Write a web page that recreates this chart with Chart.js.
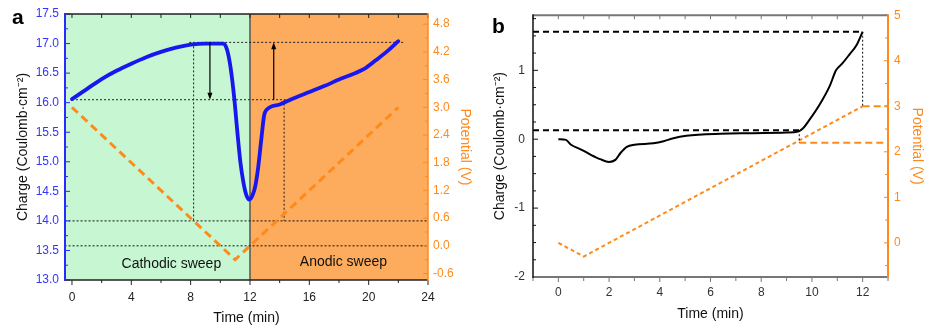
<!DOCTYPE html>
<html>
<head>
<meta charset="utf-8">
<script src="https://cdn.jsdelivr.net/npm/chart.js@4.4.0/dist/chart.umd.min.js"></script>
<style>
body { margin: 0; background: #fff; width: 925px; height: 327px; overflow: hidden; position: relative; }
#wa { position: absolute; left: 0; top: 0; width: 480px; height: 327px; }
#wb { position: absolute; left: 470px; top: 0; width: 455px; height: 327px; }
</style>
</head>
<body>
<div id="wa"><canvas id="chartA"></canvas></div>
<div id="wb"><canvas id="chartB"></canvas></div>
<script>
// ---- panel a data ----
// charge (left axis) over time
var timeA = [0, 1, 2, 3, 4, 5, 6, 7, 8, 9, 10.2, 10.45, 10.7, 10.95, 11.15, 11.35, 11.55, 11.75, 11.95,
             12.15, 12.35, 12.55, 12.75, 12.95, 13.08, 14, 15, 16, 17, 18, 19, 19.7, 20.5, 21.3, 22];
var chargeA = [16.06, 16.23, 16.40, 16.54, 16.66, 16.77, 16.86, 16.93, 16.98, 17.0, 17.0, 16.9, 16.58, 16.05, 15.5,
               15.0, 14.66, 14.44, 14.36, 14.42, 14.58, 14.9, 15.35, 15.78, 15.87, 15.97, 16.08, 16.18, 16.28,
               16.39, 16.49, 16.57, 16.72, 16.88, 17.04];
// potential (right axis)
var potTimeA = [0, 11, 22];
var potA = [3.0, -0.3, 3.0];
// guides
var capHiQ = 17.02, capHiT = [7.9, 22.4];
var capLoQ = 16.05, capLoT = [0, 14.4];
var dropT = 8.2, riseT = 14.3, baseQ = 14.0;
var zeroV = 0.0;
var arrowT = [9.3, 13.6], arrowFrom = [17.02, 16.05], arrowTo = [16.05, 17.02];
var sweepEdge = 12;
var sweepNames = ['Cathodic sweep', 'Anodic sweep'];
var sweepLabelT = [6.7, 18.3], sweepLabelQ = [13.27, 13.3];

// ---- panel b data ----
var timeB = [0, 0.3, 0.5, 0.9, 1.3, 1.65, 2.0, 2.25, 2.45, 2.7, 3.0, 3.75, 4.15, 4.5, 5.05, 6.4, 7.7, 9.0,
             9.45, 9.65, 9.9, 10.3, 10.7, 10.95, 11.2, 11.5, 11.75, 12.0];
var chargeB = [0, -0.01, -0.08, -0.15, -0.23, -0.29, -0.33, -0.3, -0.2, -0.11, -0.08, -0.06, -0.03, 0.01, 0.05,
               0.08, 0.087, 0.096, 0.11, 0.16, 0.28, 0.5, 0.77, 1.0, 1.1, 1.24, 1.36, 1.56];
var potTimeB = [0, 1, 12];
var potB = [0, -0.3, 3.0];
var holdHiT = [12, 13], holdHiV = 3.0;
var holdLoT = [9.5, 13], holdLoV = 2.2;
var levelHiQ = 1.56, levelHiT = [-1, 12];
var levelLoQ = 0.13, levelLoT = [-1, 9.5];
var connT = [9.5, 12], connQ = [0.13, 1.56], connV = [2.2, 3.0];

Chart.defaults.font.family = '"Liberation Sans", Arial, sans-serif';
Chart.defaults.animation = false;

var ORANGE = '#ff8a1c';
var NOGRID = { display: false, drawTicks: false, tickLength: 0 };

function pts(xs, ys) {
    var out = [];
    for (var i = 0; i < xs.length; i++) out.push({ x: xs[i], y: ys[i] });
    return out;
}
function hline(xs, y) { return [{ x: xs[0], y: y }, { x: xs[1], y: y }]; }
function vline(x, y1, y2) { return [{ x: x, y: y1 }, { x: x, y: y2 }]; }

// only label the major ticks
function majorLabel(step, digits) {
    return function (v) {
        var k = v / step;
        if (Math.abs(k - Math.round(k)) < 1e-6) return (Math.round(k) * step).toFixed(digits);
        return '';
    };
}
function fixW(w) { return function (s) { s.width = w; }; }
function fixH(h) { return function (s) { s.height = h; }; }

function guide(data, axis, color, width, dash) {
    return {
        data: data, yAxisID: axis, borderColor: color, borderWidth: width,
        borderDash: dash, pointRadius: 0, fill: false, tension: 0
    };
}

// tick marks + frame
function drawAxes(chart, spec) {
    var ctx = chart.ctx, a = chart.chartArea;
    ctx.save();
    ['x', 'y', 'y2'].forEach(function (id) {
        var s = chart.scales[id], o = spec[id];
        s.ticks.forEach(function (t) {
            var p = s.getPixelForValue(t.value);
            var len = t.label !== '' ? o.major : o.minor;
            ctx.lineWidth = 1;
            ctx.beginPath();
            if (id === 'x') {
                ctx.strokeStyle = o.color;
                ctx.moveTo(p, a.bottom); ctx.lineTo(p, a.bottom + len);
                ctx.stroke();
                ctx.beginPath();
                ctx.strokeStyle = o.topColor;
                ctx.moveTo(p, a.top); ctx.lineTo(p, a.top + o.top);
            } else if (id === 'y') {
                ctx.strokeStyle = o.color;
                ctx.moveTo(a.left, p); ctx.lineTo(a.left + len, p);
            } else {
                ctx.strokeStyle = o.color;
                ctx.moveTo(a.right, p); ctx.lineTo(a.right - len, p);
            }
            ctx.stroke();
        });
    });
    function edge(x1, y1, x2, y2, c, w) {
        ctx.strokeStyle = c; ctx.lineWidth = w;
        ctx.beginPath(); ctx.moveTo(x1, y1); ctx.lineTo(x2, y2); ctx.stroke();
    }
    edge(a.left, a.top, a.right, a.top, spec.x.topColor, spec.x.topWidth);
    edge(a.left, a.bottom, a.right, a.bottom, spec.x.color, spec.x.width);
    edge(a.left, a.top - 1, a.left, a.bottom + 1, spec.y.color, spec.y.width);
    edge(a.right, a.top - 1, a.right, a.bottom + 1, spec.y2.color, spec.y2.width);
    ctx.restore();
}

function arrow(ctx, x, y1, y2) {
    var dir = y2 > y1 ? 1 : -1;
    ctx.beginPath();
    ctx.moveTo(x, y1); ctx.lineTo(x, y2 - dir * 5);
    ctx.stroke();
    ctx.beginPath();
    ctx.moveTo(x, y2);
    ctx.lineTo(x - 2.5, y2 - dir * 7);
    ctx.lineTo(x + 2.5, y2 - dir * 7);
    ctx.closePath();
    ctx.fill();
}

// ---- chart a ----
var plugA = {
    id: 'panelA',
    beforeDraw: function (chart) {
        var ctx = chart.ctx, a = chart.chartArea, xs = chart.scales.x;
        var xe = xs.getPixelForValue(sweepEdge);
        ctx.save();
        ctx.fillStyle = '#c7f7d2';
        ctx.fillRect(a.left, a.top, xe - a.left, a.bottom - a.top);
        ctx.fillStyle = '#fdab5c';
        ctx.fillRect(xe, a.top, a.right - xe, a.bottom - a.top);
        ctx.strokeStyle = '#555';
        ctx.lineWidth = 1.5;
        ctx.beginPath(); ctx.moveTo(xe, a.top); ctx.lineTo(xe, a.bottom); ctx.stroke();
        ctx.restore();
    },
    afterDraw: function (chart) {
        var ctx = chart.ctx, xs = chart.scales.x, ys = chart.scales.y;
        drawAxes(chart, {
            x: { color: '#222', width: 1.5, major: 5, minor: 3, topColor: '#222', topWidth: 1.5, top: 4 },
            y: { color: '#2a2aff', width: 2, major: 5, minor: 3 },
            y2: { color: ORANGE, width: 1.5, major: 5, minor: 3 }
        });
        ctx.save();
        ctx.strokeStyle = '#000'; ctx.fillStyle = '#000'; ctx.lineWidth = 1.2;
        for (var i = 0; i < arrowT.length; i++) {
            arrow(ctx, xs.getPixelForValue(arrowT[i]), ys.getPixelForValue(arrowFrom[i]), ys.getPixelForValue(arrowTo[i]));
        }
        ctx.font = '14px "Liberation Sans", Arial, sans-serif';
        ctx.fillStyle = '#111';
        ctx.textAlign = 'center'; ctx.textBaseline = 'middle';
        for (var j = 0; j < sweepNames.length; j++) {
            ctx.fillText(sweepNames[j], xs.getPixelForValue(sweepLabelT[j]), ys.getPixelForValue(sweepLabelQ[j]));
        }
        ctx.font = 'bold 21px "Liberation Sans", Arial, sans-serif';
        ctx.textAlign = 'left'; ctx.textBaseline = 'alphabetic';
        ctx.fillStyle = '#000';
        ctx.fillText('a', 12, 24);
        ctx.restore();
    }
};

new Chart(document.getElementById('chartA'), {
    type: 'line',
    data: {
        datasets: [
            { data: pts(timeA, chargeA), yAxisID: 'y', borderColor: '#1717ee', borderWidth: 3.8,
              pointRadius: 0, cubicInterpolationMode: 'monotone', borderCapStyle: 'round', fill: false },
            { data: pts(potTimeA, potA), yAxisID: 'y2', borderColor: ORANGE, borderWidth: 3,
              borderDash: [8, 5], pointRadius: 0, tension: 0, fill: false },
            guide(hline(capHiT, capHiQ), 'y', '#222', 1, [2, 2]),
            guide(hline(capLoT, capLoQ), 'y', '#222', 1, [2, 2]),
            guide(vline(dropT, capHiQ, baseQ), 'y', '#222', 1, [2, 2]),
            guide(vline(riseT, capLoQ, baseQ), 'y', '#222', 1, [2, 2]),
            guide(hline([-0.5, 24], baseQ), 'y', '#111', 1, [2, 2]),
            guide(hline([-0.5, 24], zeroV), 'y2', '#111', 1, [2, 2])
        ]
    },
    options: {
        responsive: true, maintainAspectRatio: false,
        layout: { padding: { top: 14, left: 0, right: 0, bottom: 0 } },
        plugins: { legend: { display: false }, tooltip: { enabled: false } },
        scales: {
            x: {
                type: 'linear', min: -0.47, max: 24, afterFit: fixH(47),
                grid: NOGRID, border: { display: false },
                ticks: { stepSize: 2, autoSkip: false, includeBounds: false, maxRotation: 0, padding: 10,
                         color: '#222', font: { size: 12 }, callback: majorLabel(4, 0) },
                title: { display: true, text: 'Time (min)', color: '#111', font: { size: 14 },
                         padding: { top: 0, bottom: 0 } }
            },
            y: {
                type: 'linear', position: 'left', min: 13, max: 17.5, afterFit: fixW(65),
                grid: NOGRID, border: { display: false },
                ticks: { stepSize: 0.25, autoSkip: false, includeBounds: false, padding: 6,
                         color: '#3434ff', font: { size: 12 }, callback: majorLabel(0.5, 1) },
                title: { display: true, text: 'Charge (Coulomb·cm⁻²)', color: '#111', font: { size: 14 },
                         padding: { top: 15, bottom: 0 } }
            },
            y2: {
                type: 'linear', position: 'right', min: -0.74, max: 5.02, afterFit: fixW(52),
                grid: NOGRID, border: { display: false },
                ticks: { stepSize: 0.3, autoSkip: false, includeBounds: false, padding: 5,
                         color: ORANGE, font: { size: 12 }, callback: majorLabel(0.6, 1) },
                title: { display: true, text: 'Potential (V)', color: ORANGE, font: { size: 14 },
                         padding: { top: 7, bottom: 0 } }
            }
        }
    },
    plugins: [plugA]
});

// ---- chart b ----
var plugB = {
    id: 'panelB',
    afterDraw: function (chart) {
        var ctx = chart.ctx, xs = chart.scales.x, ys = chart.scales.y, vs = chart.scales.y2;
        drawAxes(chart, {
            x: { color: '#777', width: 2, major: 5, minor: 4, topColor: '#777', topWidth: 2, top: 4 },
            y: { color: '#111', width: 1.5, major: 5, minor: 3 },
            y2: { color: ORANGE, width: 2, major: 4, minor: 3 }
        });
        ctx.save();
        ctx.strokeStyle = '#111'; ctx.lineWidth = 1; ctx.setLineDash([2, 2]);
        for (var i = 0; i < connT.length; i++) {
            var px = xs.getPixelForValue(connT[i]);
            ctx.beginPath();
            ctx.moveTo(px, ys.getPixelForValue(connQ[i]));
            ctx.lineTo(px, vs.getPixelForValue(connV[i]));
            ctx.stroke();
        }
        ctx.setLineDash([]);
        ctx.font = 'bold 21px "Liberation Sans", Arial, sans-serif';
        ctx.fillStyle = '#000';
        ctx.fillText('b', 22, 33);
        ctx.restore();
    }
};

new Chart(document.getElementById('chartB'), {
    type: 'line',
    data: {
        datasets: [
            { data: pts(timeB, chargeB), yAxisID: 'y', borderColor: '#000', borderWidth: 2,
              pointRadius: 0, cubicInterpolationMode: 'monotone', fill: false },
            { data: pts(potTimeB, potB), yAxisID: 'y2', borderColor: ORANGE, borderWidth: 2,
              borderDash: [4, 3], pointRadius: 0, tension: 0, fill: false },
            guide(hline(holdHiT, holdHiV), 'y2', ORANGE, 2, [7, 4]),
            guide(hline(holdLoT, holdLoV), 'y2', ORANGE, 2, [7, 4]),
            guide(hline(levelHiT, levelHiQ), 'y', '#000', 2, [6, 4]),
            guide(hline(levelLoT, levelLoQ), 'y', '#000', 2, [6, 4])
        ]
    },
    options: {
        responsive: true, maintainAspectRatio: false,
        layout: { padding: { top: 15, left: 0, right: 0, bottom: 0 } },
        plugins: { legend: { display: false }, tooltip: { enabled: false } },
        scales: {
            x: {
                type: 'linear', min: -1, max: 13, afterFit: fixH(50),
                grid: NOGRID, border: { display: false },
                ticks: { stepSize: 1, autoSkip: false, includeBounds: false, maxRotation: 0, padding: 8,
                         color: '#333', font: { size: 12 }, callback: majorLabel(2, 0) },
                title: { display: true, text: 'Time (min)', color: '#111', font: { size: 14 },
                         padding: { top: 0, bottom: 4 } }
            },
            y: {
                type: 'linear', position: 'left', min: -2, max: 1.8, afterFit: fixW(63),
                grid: NOGRID, border: { display: false },
                ticks: { stepSize: 0.25, autoSkip: false, includeBounds: false, padding: 8,
                         color: '#333', font: { size: 12 }, callback: majorLabel(1, 0) },
                title: { display: true, text: 'Charge (Coulomb·cm⁻²)', color: '#111', font: { size: 14 },
                         padding: { top: 22, bottom: 0 } }
            },
            y2: {
                type: 'linear', position: 'right', min: -0.75, max: 5, afterFit: fixW(37),
                grid: NOGRID, border: { display: false },
                ticks: { stepSize: 0.5, autoSkip: false, includeBounds: false, padding: 6,
                         color: ORANGE, font: { size: 12 }, callback: majorLabel(1, 0) },
                title: { display: true, text: 'Potential (V)', color: ORANGE, font: { size: 14 },
                         padding: { top: 0, bottom: 0 } }
            }
        }
    },
    plugins: [plugB]
});
</script>
</body>
</html>
